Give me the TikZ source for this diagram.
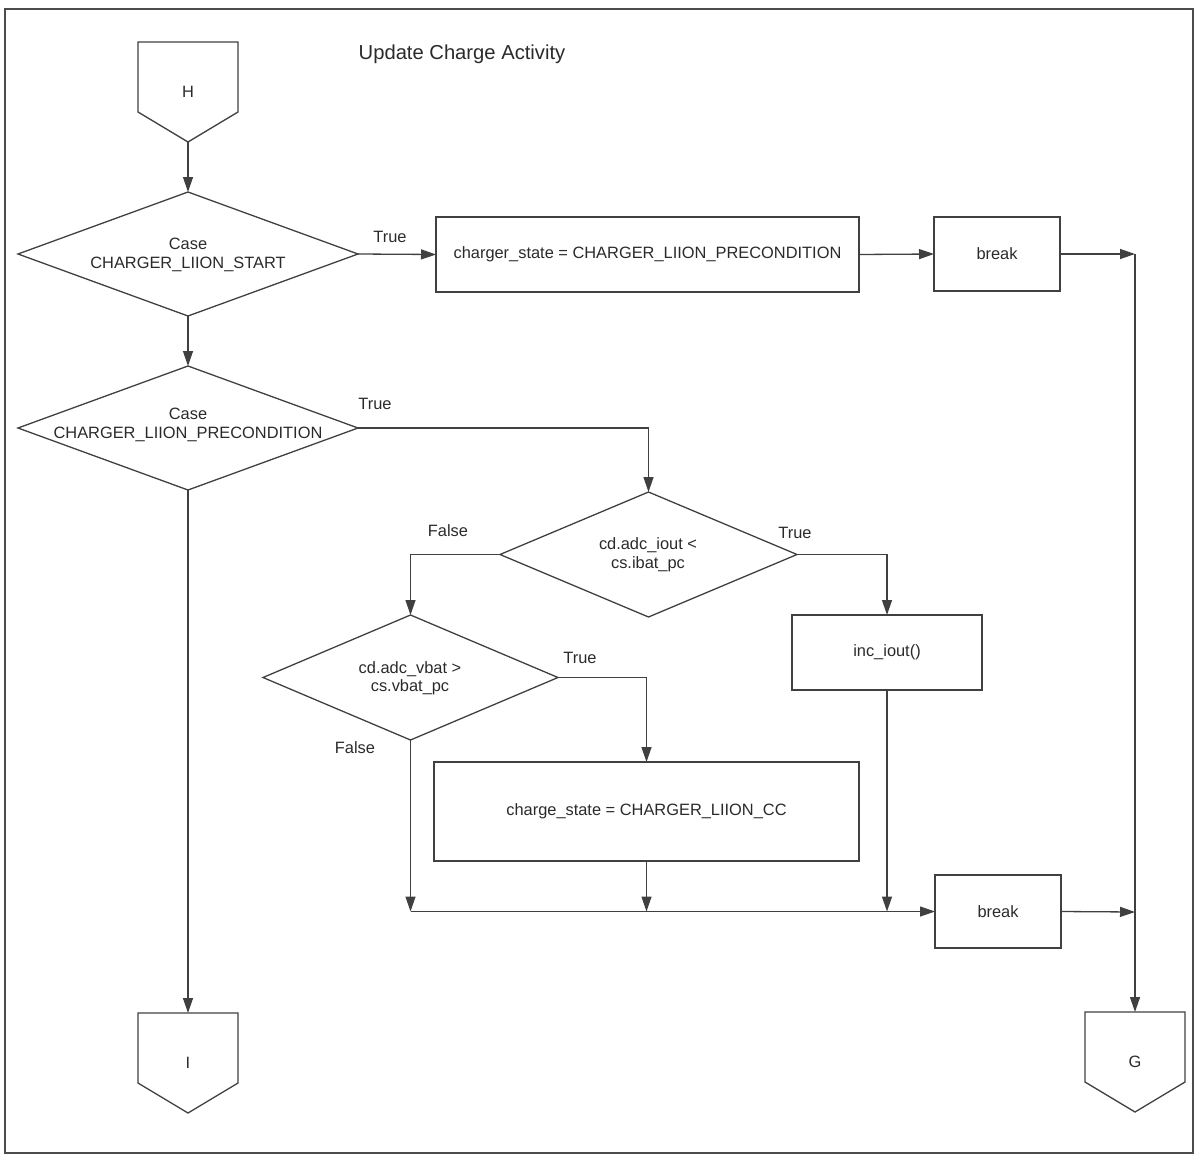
\documentclass[tikz,border=0pt]{standalone}
\usepackage{fontspec}
\setmainfont{Liberation Sans}
\usetikzlibrary{arrows.meta,shapes.geometric,calc}
\definecolor{linec}{HTML}{404040}
\definecolor{textc}{HTML}{2A2A2A}
\begin{document}
\begin{tikzpicture}[x=1pt,y=-1pt,
 every node/.style={outer sep=0pt},
 lbl/.style={font=\fontsize{16.4}{18.5}\selectfont, text=textc, align=center, inner sep=0pt},
 proc/.style={draw=linec, line width=1.3pt, rectangle, inner sep=0pt, font=\fontsize{16.4}{18.5}\selectfont, text=textc},
 dia/.style={draw=linec, line width=1.3pt, diamond, inner sep=0pt},
 offp/.style={draw=none, minimum width=100pt, minimum height=100pt, inner sep=0pt, font=\fontsize{16.4}{18.5}\selectfont, text=textc},
 wire/.style={draw=linec, line width=1.3pt},
 arr/.style={wire, -{Triangle[length=15pt,width=10pt]}},
]
\useasboundingbox (0,0) rectangle (1198,1156);
\draw[line width=1.2pt, draw=black!70] (5,9) rectangle (1193,1153);

\node[lbl, font=\fontsize{20.2}{24}\selectfont] (title) at (462,54) {Update Charge Activity};

% off-page connectors
\node[offp] (H) at (188,92) {H};
\node[offp] (I) at (188,1063) {I};
\node[offp] (G) at (1135,1062) {G};
\foreach \n in {H,I,G}{
  \draw[wire, line join=miter] ($(\n.center)+(-50,-50)$) -- ($(\n.center)+(50,-50)$) -- ($(\n.center)+(50,20)$)
     -- (\n.south) -- ($(\n.center)+(-50,20)$) -- cycle;
}

% decisions
\node[dia, minimum width=340pt, minimum height=124pt] (d1) at (188,254) {};
\node[lbl] at (188,255) {Case\\CHARGER\_LIION\_START};
\node[dia, minimum width=340pt, minimum height=124pt] (d2) at (188,428) {};
\node[lbl] at (188,425) {Case\\CHARGER\_LIION\_PRECONDITION};
\node[dia, minimum width=297pt, minimum height=125pt] (d3) at (648.5,554.5) {};
\node[lbl] at (648,555) {cd.adc\_iout <\\cs.ibat\_pc};
\node[dia, minimum width=295pt, minimum height=125pt] (d4) at (410.5,677.5) {};
\node[lbl] at (410,678) {cd.adc\_vbat >\\cs.vbat\_pc};

% processes
\node[proc, minimum width=423pt, minimum height=75pt] (box1) at (647.5,254.5) {charger\_state = CHARGER\_LIION\_PRECONDITION};
\node[proc, minimum width=126pt, minimum height=74pt] (brk1) at (997,254) {break};
\node[proc, minimum width=190pt, minimum height=75pt] (inc) at (887,652.5) {inc\_iout()};
\node[proc, minimum width=425pt, minimum height=99pt] (cc) at (646.5,811.5) {charge\_state = CHARGER\_LIION\_CC};
\node[proc, minimum width=126pt, minimum height=73pt] (brk2) at (998,911.5) {break};

\coordinate (j1) at (1135,254);
\coordinate (j2) at (1135,912);
\coordinate (m1) at (d4.south |- brk2.west);
\coordinate (m2) at (cc.south |- brk2.west);
\coordinate (m3) at (inc.south |- brk2.west);

% connectors
\draw[arr] (H.south) -- (d1.north);
\draw[arr] (d1.east) -- (box1.west);
\draw[arr] (box1.east) -- (brk1.west);
\draw[arr] (brk1.east) -- (j1);
\draw[arr] (j1) -- (G.north);
\draw[arr] (d1.south) -- (d2.north);
\draw[arr] (d2.east) -| (d3.north);
\draw[arr] (d2.south) -- (I.north);
\draw[arr] (d3.west) -| (d4.north);
\draw[arr] (d3.east) -| (inc.north);
\draw[arr] (d4.east) -| (cc.north);
\draw[arr] (d4.south) -- (m1);
\draw[arr] (cc.south) -- (m2);
\draw[arr] (inc.south) -- (m3);
\draw[arr] (m1) -- (brk2.west);
\draw[arr] (brk2.east) -- (j2);

% edge labels
\node[lbl] at (390,237) {True};
\node[lbl] at (375,404) {True};
\node[lbl] at (448,531) {False};
\node[lbl] at (795,533) {True};
\node[lbl] at (580,658) {True};
\node[lbl] at (355,748) {False};
\end{tikzpicture}
\end{document}
